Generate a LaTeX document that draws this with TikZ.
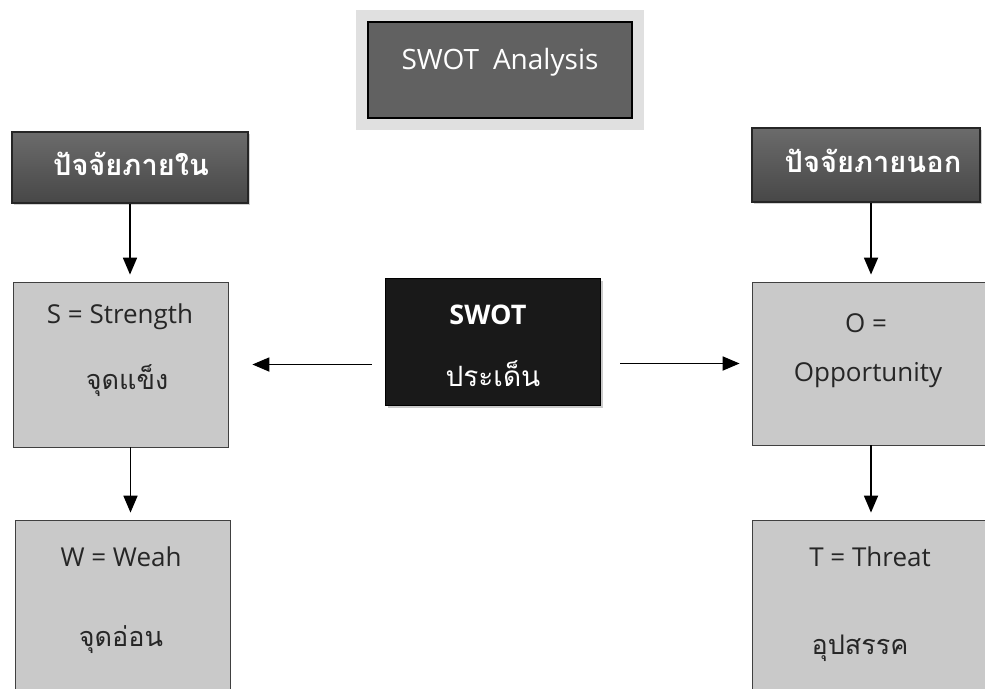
\documentclass[tikz,border=0pt]{standalone}
\usepackage{fontspec}
\setmainfont{Open Sans}
\newfontfamily\thai[Script=Thai]{Loma}
\usetikzlibrary{arrows.meta,shadows}
\begin{document}
\begin{tikzpicture}[x=1pt,y=-1pt,
  lightbox/.style={draw=black!75, fill=black!21, line width=0.8pt, inner sep=0pt},
  headbox/.style={draw=black!85, top color=black!58, bottom color=black!72, line width=1.2pt, inner sep=0pt,
     drop shadow={shadow xshift=2pt, shadow yshift=-2pt, fill=black!35}},
  topbox/.style={draw=black, fill=black!62, line width=1.2pt, inner sep=0pt,
     preaction={draw=black!12, line width=24pt}},
  corebox/.style={fill=black!90, draw=black, inner sep=0pt,
     drop shadow={shadow xshift=3pt, shadow yshift=-3pt, fill=black!40}},
  arr/.style={line width=1.8pt, -{Triangle[width=14pt,length=17pt]}, shorten >=7pt},
  lat/.style={font=\fontsize{26}{30}\selectfont, text=black!85, inner sep=0pt},
  th/.style={font=\thai\fontsize{27}{32}\selectfont, text=black!85, inner sep=0pt},
  wlat/.style={font=\fontsize{28}{32}\selectfont, text=white, inner sep=0pt},
  wth/.style={font=\thai\bfseries\fontsize{29}{34}\selectfont, text=white, inner sep=0pt}
]
\useasboundingbox (0,0) rectangle (985,688);
\clip (0,0) rectangle (985,688);
\fill[white] (0,0) rectangle (985,688);

% boxes
\node[topbox, minimum width=264pt, minimum height=96pt] (top) at (500,70) {};
\node[headbox, minimum width=236pt, minimum height=71pt] (lh) at (130,167.5) {};
\node[headbox, minimum width=228pt, minimum height=74pt] (rh) at (866,165) {};
\node[lightbox, minimum width=215pt, minimum height=165pt] (S) at (120.5,364.5) {};
\node[lightbox, minimum width=215pt, minimum height=180pt] (W) at (122.5,610) {};
\node[corebox, minimum width=215pt, minimum height=127pt] (C) at (492.5,341.5) {};
\node[lightbox, minimum width=238pt, minimum height=163pt] (O) at (871,363.5) {};
\node[lightbox, minimum width=238pt, minimum height=180pt] (T) at (871,610) {};

% texts
\node[wlat] (ttop) at (500,62) {SWOT\hspace{0.5em}Analysis};
\node[wth] (tlh) at (131,164) {ปัจจัยภายใน};
\node[wth] (trh) at (873,161) {ปัจจัยภายนอก};
\node[lat] (ts1) at (120,317) {S = Strength};
\node[th] (ts2) at (127,381) {จุดแข็ง};
\node[lat] (tw1) at (121,557) {W = Weah};
\node[th] (tw2) at (121,640) {จุดอ่อน};
\node[wlat, font=\bfseries\fontsize{27}{32}\selectfont] (tc1) at (488,315) {SWOT};
\node[wth, font=\thai\fontsize{28}{32}\selectfont] (tc2) at (493,374) {ประเด็น};
\node[lat] (to1) at (866,323) {O =};
\node[lat] (to2) at (868,375) {Opportunity};
\node[lat] (tt1) at (870,557) {T = Threat};
\node[th] (tt2) at (860,648) {อุปสรรค};

% arrows
\draw[arr] (lh.south) -- (lh.south |- S.north);
\draw[arr] ([xshift=10pt]S.south) -- ([xshift=10pt]S.south |- W.north);
\draw[arr] (O.north |- rh.south) -- (O.north);
\draw[arr] (O.south) -- (T.north);
\draw[arr, shorten <=13pt, shorten >=24pt] (C.west |- S.east) -- (S.east);
\draw[arr, shorten <=20pt, shorten >=12pt] (C.east |- O.west) -- (O.west);
\end{tikzpicture}
\end{document}
